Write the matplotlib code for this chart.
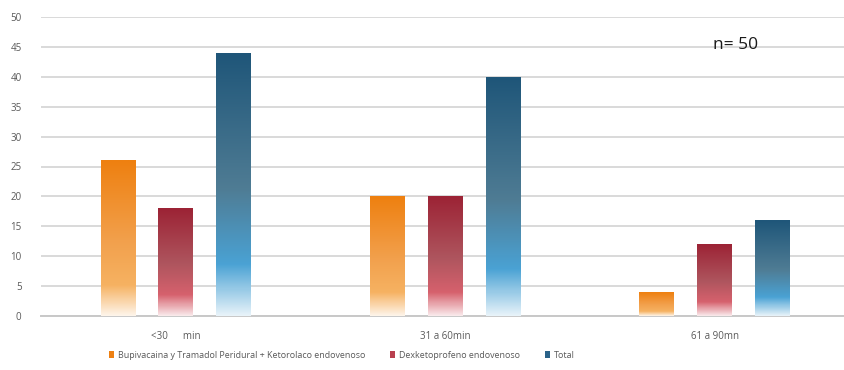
import numpy as np
import matplotlib
matplotlib.use("Agg")
import matplotlib.pyplot as plt
from matplotlib.colors import LinearSegmentedColormap
from matplotlib.patches import Patch

# Data
categories = ["<30      min", "31 a 60min", "61 a 90mn"]
series_names = [
    "Bupivacaina y Tramadol Peridural + Ketorolaco endovenoso",
    "Dexketoprofeno endovenoso",
    "Total",
]
bupivacaina = [26, 20, 4]
dexketoprofeno = [18, 20, 12]
total = [44, 40, 16]

# gradient stops from top of bar to bottom
stops = [0.0, 0.5, 0.78, 1.0]
grad_colors = [
    ["#EE8010", "#F2A04C", "#F6B262", "#FFFFFF"],
    ["#9C2335", "#AE555E", "#D6616D", "#FFFFFF"],
    ["#1F5679", "#4F7C94", "#4AA2D4", "#FFFFFF"],
]
legend_colors = ["#EE8012", "#B8404F", "#2A6289"]
text_color = "#595959"
font = "Open Sans"

fig = plt.figure(figsize=(8.44, 3.70), dpi=100)
ax = fig.add_axes([41 / 844, 54.3 / 370, 803 / 844, 298.4 / 370])

x = np.arange(len(categories))
offsets = [-0.215, 0.0, 0.215]
width = 0.128

for i, vals in enumerate([bupivacaina, dexketoprofeno, total]):
    cmap = LinearSegmentedColormap.from_list(
        f"g{i}", list(zip(stops, grad_colors[i]))
    )
    bars = ax.bar(x + offsets[i], vals, width, facecolor="none",
                  edgecolor="none", zorder=3)
    for b in bars:
        # row 0 = dark colour, drawn at the top of the bar
        grad = np.linspace(0, 0.97, 256).reshape(-1, 1)
        ax.imshow(grad, cmap=cmap, aspect="auto", vmin=0, vmax=1,
                  extent=[b.get_x(), b.get_x() + b.get_width(),
                          0, b.get_height()],
                  origin="upper", zorder=3, interpolation="bilinear")

ax.set_xlim(-0.5, 2.48)
ax.set_ylim(0, 50)
ax.set_yticks(range(0, 51, 5))
ax.set_xticks(x)
ax.set_xticklabels(categories, fontfamily=font, fontsize=7, color=text_color)
ax.tick_params(axis="both", length=0, labelsize=7, labelcolor=text_color)
ax.tick_params(axis="x", pad=11)
ax.tick_params(axis="y", pad=14)
for lab in ax.get_yticklabels():
    lab.set_fontfamily(font)

ax.grid(axis="y", color="#D9D9D9", linewidth=1.4, zorder=0)
ax.set_axisbelow(True)
for side in ["top", "right", "left"]:
    ax.spines[side].set_visible(False)
ax.spines["bottom"].set_color("#C8C8C8")
ax.spines["bottom"].set_linewidth(1.4)

ax.text(0.8655, 0.907, "n= 50", transform=ax.transAxes, fontsize=12.5,
        fontfamily=font, color="#1a1a1a", ha="center", va="center")

handles = [Patch(facecolor=c, edgecolor="none", label=n)
           for c, n in zip(legend_colors, series_names)]
fig.legend(handles=handles, loc="center", bbox_to_anchor=(0.405, 0.04),
           ncol=3, frameon=False, handlelength=0.6, handleheight=0.9,
           handletextpad=0.4, columnspacing=2.8,
           prop={"family": font, "size": 6.4}, labelcolor=text_color)

fig.savefig("out.png", dpi=100)
